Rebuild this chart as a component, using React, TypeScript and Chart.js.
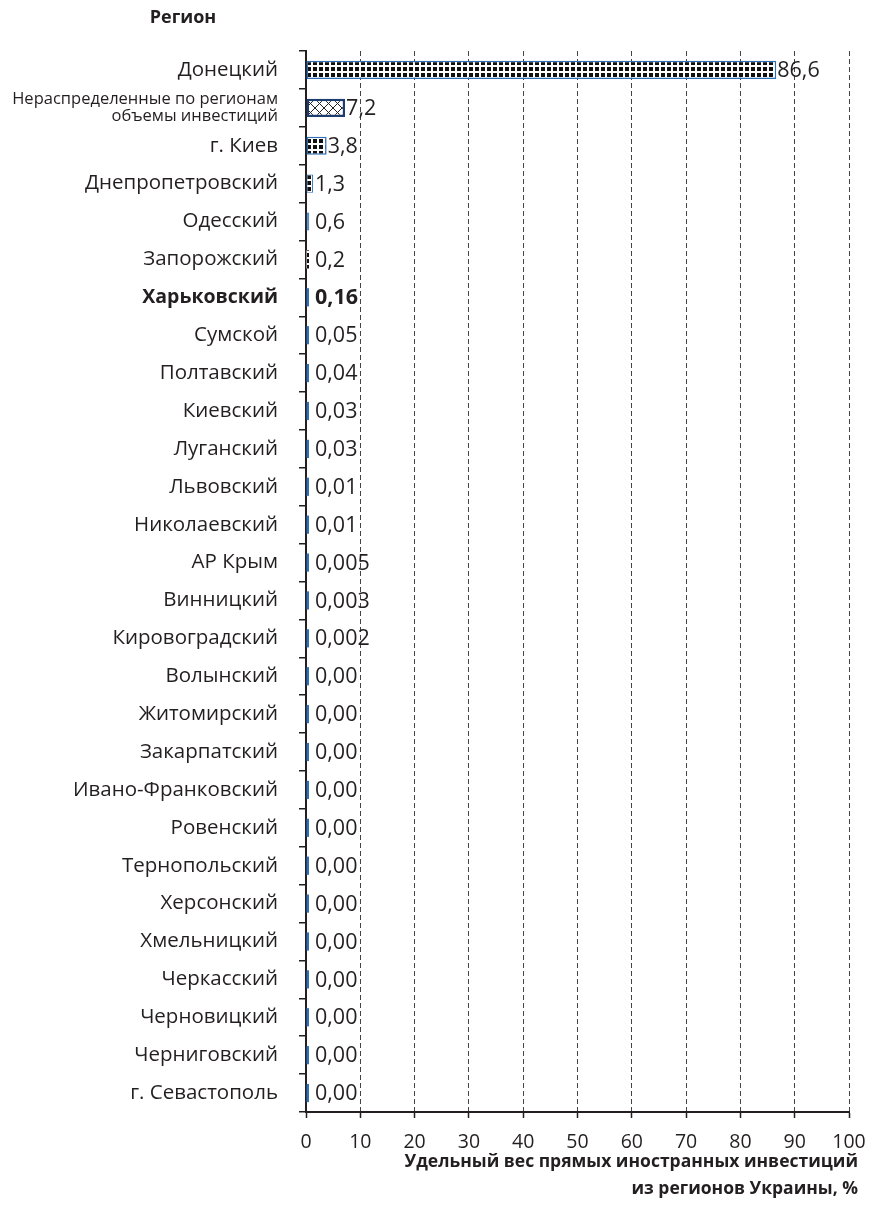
import { useEffect, useRef } from 'react';
import { Chart, registerables } from 'chart.js';

Chart.register(...registerables);

const regions: (string | string[])[] = [
  'Донецкий',
  ['Нераспределенные по регионам', 'объемы инвестиций'],
  'г. Киев',
  'Днепропетровский',
  'Одесский',
  'Запорожский',
  'Харьковский',
  'Сумской',
  'Полтавский',
  'Киевский',
  'Луганский',
  'Львовский',
  'Николаевский',
  'АР Крым',
  'Винницкий',
  'Кировоградский',
  'Волынский',
  'Житомирский',
  'Закарпатский',
  'Ивано-Франковский',
  'Ровенский',
  'Тернопольский',
  'Херсонский',
  'Хмельницкий',
  'Черкасский',
  'Черновицкий',
  'Черниговский',
  'г. Севастополь',
];

const shares = [
  86.6, 7.2, 3.8, 1.3, 0.6, 0.2, 0.16, 0.05, 0.04, 0.03, 0.03, 0.01, 0.01, 0.005,
  0.003, 0.002, 0, 0, 0, 0, 0, 0, 0, 0, 0, 0, 0, 0,
];

const shareLabels = [
  '86,6', '7,2', '3,8', '1,3', '0,6', '0,2', '0,16', '0,05', '0,04', '0,03', '0,03',
  '0,01', '0,01', '0,005', '0,003', '0,002', '0,00', '0,00', '0,00', '0,00', '0,00',
  '0,00', '0,00', '0,00', '0,00', '0,00', '0,00', '0,00',
];

const xTickValues = [0, 10, 20, 30, 40, 50, 60, 70, 80, 90, 100];

const yTitle = 'Регион';
const xTitleLines = ['Удельный вес прямых иностранных инвестиций', 'из регионов Украины, %'];

const highlightIndex = 6;
const FONT = '"Open Sans", "Noto Sans", sans-serif';
const TEXT = '#231f20';
const BLUE = '#2f6fb5';
const NAVY = '#1c3d6e';

function squarePattern(ctx: CanvasRenderingContext2D) {
  const c = document.createElement('canvas');
  c.width = 6;
  c.height = 6;
  const g = c.getContext('2d')!;
  g.fillStyle = '#ffffff';
  g.fillRect(0, 0, 6, 6);
  g.fillStyle = '#111111';
  g.fillRect(1, 1, 4, 4);
  return ctx.createPattern(c, 'repeat')!;
}

function crossPattern(ctx: CanvasRenderingContext2D) {
  const c = document.createElement('canvas');
  c.width = 9;
  c.height = 9;
  const g = c.getContext('2d')!;
  g.fillStyle = '#ffffff';
  g.fillRect(0, 0, 9, 9);
  g.strokeStyle = '#222222';
  g.lineWidth = 1;
  g.beginPath();
  g.moveTo(0, 0);
  g.lineTo(9, 9);
  g.moveTo(9, 0);
  g.lineTo(0, 9);
  g.stroke();
  return ctx.createPattern(c, 'repeat')!;
}

export default function App() {
  const ref = useRef<HTMLCanvasElement>(null);

  useEffect(() => {
    const canvas = ref.current!;
    const ctx = canvas.getContext('2d')!;
    const sq = squarePattern(ctx);
    const cross = crossPattern(ctx);

    const fills = shares.map((_, i) => {
      if (i === 1) return cross;
      if (i === 0 || i === 2 || i === 3 || i === 5) return sq;
      return BLUE;
    });
    const borders = shares.map((_, i) => (i === 1 ? NAVY : BLUE));
    const borderWidths = shares.map((_, i) => (i === 1 ? 2.5 : i === 0 || i === 2 ? 1.5 : i === 3 || i === 4 ? 1 : 0));

    const labelsPlugin = {
      id: 'valueLabels',
      afterDatasetsDraw(chart: any) {
        const c = chart.ctx;
        const meta = chart.getDatasetMeta(0);
        const x0 = chart.scales.x.getPixelForValue(0);
        c.save();
        c.fillStyle = TEXT;
        c.textBaseline = 'middle';
        c.textAlign = 'left';
        meta.data.forEach((bar: any, i: number) => {
          c.font = `${i === highlightIndex ? 'bold ' : ''}21.5px ${FONT}`;
          const x = Math.max(bar.x + 1, x0 + 9);
          c.fillText(shareLabels[i], x, bar.y + 1);
        });
        c.restore();
      },
    };

    const titlesPlugin = {
      id: 'titles',
      afterDraw(chart: any) {
        const c = chart.ctx;
        c.save();
        c.fillStyle = TEXT;
        c.font = `bold 18px ${FONT}`;
        c.textAlign = 'center';
        c.textBaseline = 'middle';
        c.fillText(yTitle, 183, 18);
        c.textAlign = 'right';
        c.font = `bold 17.5px ${FONT}`;
        c.fillText(xTitleLines[0], 858, 1162);
        c.fillText(xTitleLines[1], 858, 1189);
        c.restore();
      },
    };

    const chart = new Chart(canvas, {
      type: 'bar',
      data: {
        labels: regions,
        datasets: [
          {
            data: shares,
            backgroundColor: fills,
            borderColor: borders,
            borderWidth: borderWidths,
            borderSkipped: false,
            categoryPercentage: 1,
            barPercentage: 0.48,
            minBarLength: 3,
          },
        ],
      },
      options: {
        indexAxis: 'y',
        responsive: false,
        animation: false,
        layout: { padding: { top: 51, right: 20, left: 0, bottom: 0 } },
        plugins: {
          legend: { display: false },
          tooltip: { enabled: false },
        },
        scales: {
          y: {
            type: 'category',
            position: 'left',
            grid: {
              offset: true,
              drawOnChartArea: false,
              drawTicks: true,
              tickLength: 7,
              color: TEXT,
              lineWidth: 1.5,
            },
            border: { display: true, color: TEXT, width: 2 },
            ticks: {
              padding: 21,
              color: TEXT,
              autoSkip: false,
              font: (c: any) =>
                c.index === 1
                  ? { family: FONT, size: 16.5, lineHeight: 1.08 }
                  : c.index === highlightIndex
                  ? { family: FONT, size: 19.5, weight: 'bold' }
                  : { family: FONT, size: 20.5 },
            },
            afterFit: (s: any) => {
              s.width = 306;
              s.paddingTop = 0;
              s.paddingBottom = 0;
            },
          },
          x: {
            type: 'linear',
            position: 'bottom',
            min: 0,
            max: 100,
            afterBuildTicks: (s: any) => {
              s.ticks = xTickValues.map((v) => ({ value: v }));
            },
            grid: {
              color: (c: any) => (c.tick && c.tick.value === 0 ? 'rgba(0,0,0,0)' : '#444444'),
              lineWidth: 1,
              tickColor: TEXT,
              tickLength: 6,
              tickWidth: 1.5,
            },
            border: { display: true, color: TEXT, width: 2, dash: [5, 3] },
            ticks: {
              padding: 13,
              color: TEXT,
              font: { family: FONT, size: 19.5 },
              callback: (v: any) => String(v),
            },
            afterFit: (s: any) => {
              s.height = 104;
              s.paddingLeft = 0;
              s.paddingRight = 0;
            },
          },
        },
      },
      plugins: [labelsPlugin, titlesPlugin],
    });

    return () => chart.destroy();
  }, []);

  return (
    <div style={{ position: 'absolute', left: 0, top: 0, width: 869, height: 1216, background: '#fff' }}>
      <canvas ref={ref} width={869} height={1216} style={{ display: 'block' }} />
    </div>
  );
}
